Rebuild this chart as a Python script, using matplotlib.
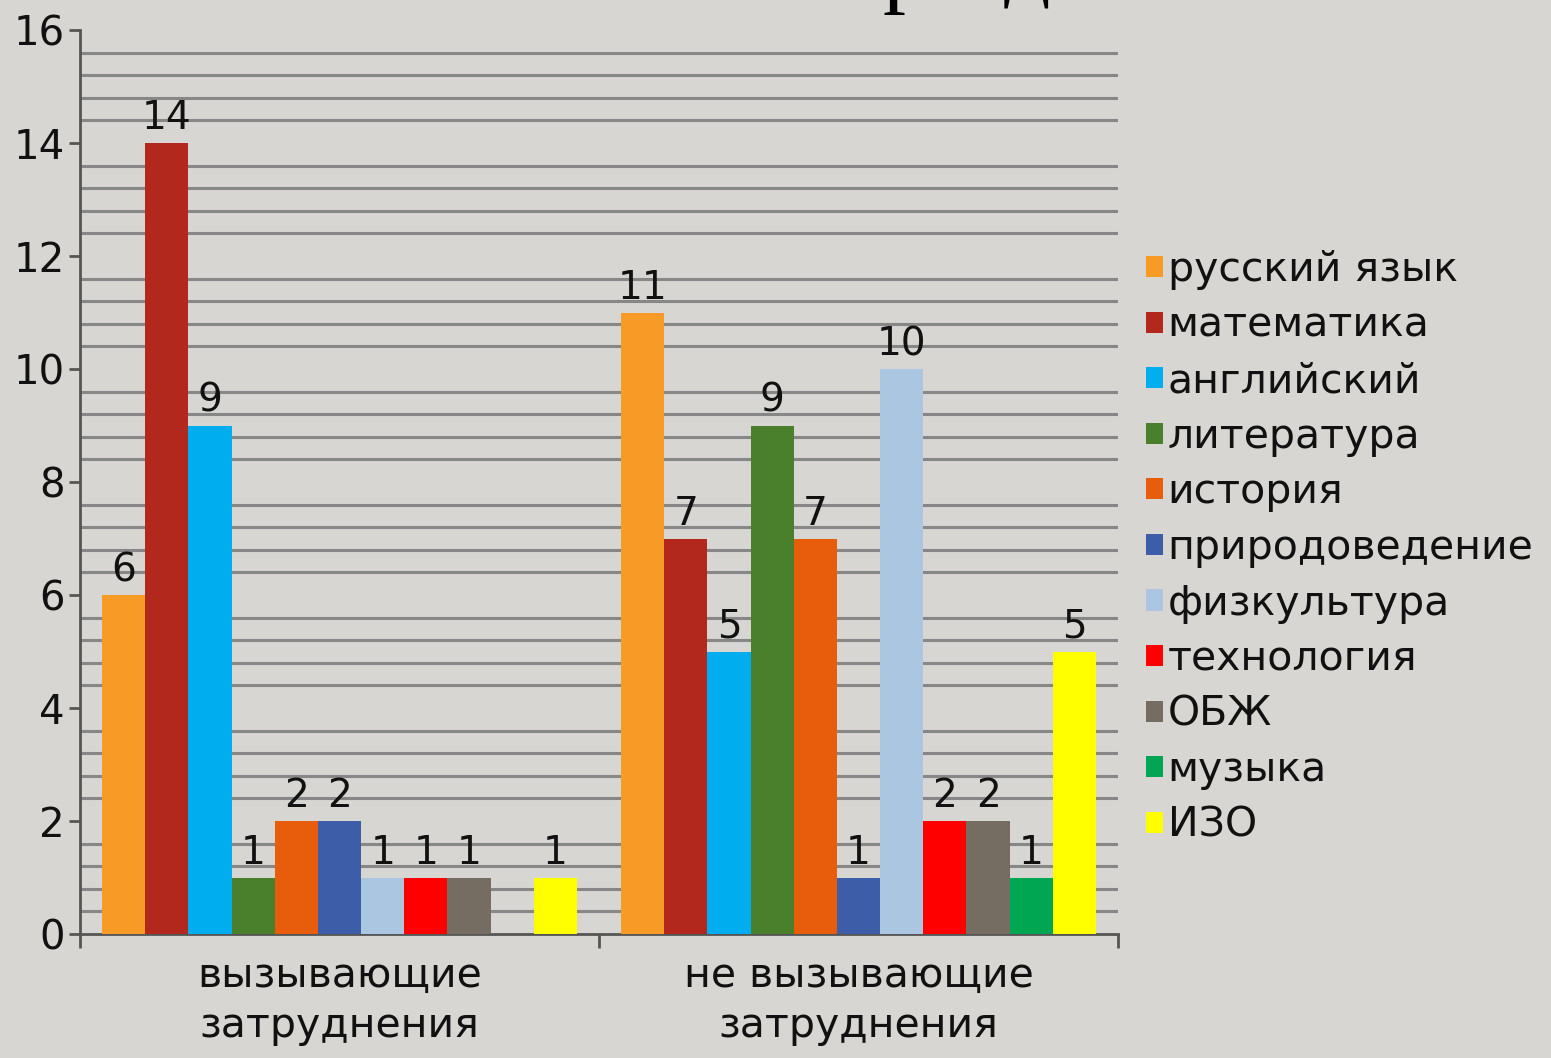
import numpy as np
import matplotlib
matplotlib.use('Agg')
from matplotlib import pyplot as plt

# данные
groups = ['вызывающие\nзатруднения', 'не вызывающие\nзатруднения']
subjects = ['русский язык', 'математика', 'английский', 'литература', 'история',
            'природоведение', 'физкультура', 'технология', 'ОБЖ', 'музыка', 'ИЗО']
hard = [6, 14, 9, 1, 2, 2, 1, 1, 1, 0, 1]
not_hard = [11, 7, 5, 9, 7, 1, 10, 2, 2, 1, 5]
colors = ['#f79a26', '#b3281d', '#00aeef', '#4a7f2c', '#e85d0c', '#3d5da8',
          '#abc6e0', '#ff0000', '#756d62', '#00a651', '#ffff00']
y_ticks = [0, 2, 4, 6, 8, 10, 12, 14, 16]

bg = '#d7d6d2'
plt.rcParams['font.family'] = ['DejaVu Sans']

fig = plt.figure(figsize=(15.51, 10.58), dpi=100, facecolor=bg)
ax = fig.add_axes([0.0516, 0.1172, 0.7208 - 0.0516, 0.9716 - 0.1172])
ax.set_facecolor(bg)

x = np.arange(len(groups))
w = 0.0832
for i, subj in enumerate(subjects):
    vals = [hard[i], not_hard[i]]
    pos = x + (i - 5) * w
    bars = ax.bar(pos, vals, width=w, color=colors[i], label=subj, zorder=3)
    for b, v in zip(bars, vals):
        if v > 0:
            ax.text(b.get_x() + b.get_width() / 2, v + 0.1, str(v),
                    ha='center', va='bottom', fontsize=28, color='#111111', zorder=4)

# мелкая сетка через 0.4, без линий на чётных значениях
grid_vals = [v for v in np.arange(0.4, 16, 0.4) if abs(v / 2 - round(v / 2)) > 0.01]
for g in grid_vals:
    ax.axhline(g, color='#878787', lw=2.2, zorder=1)

ax.set_xlim(-0.5, 1.5)
ax.set_ylim(0, 16)
ax.set_yticks(y_ticks)
ax.set_yticklabels([str(t) for t in y_ticks], fontsize=29, color='#111111')
ax.set_xticks([-0.5, 0.5, 1.5])
ax.set_xticklabels([])
ax.set_xticks(x, minor=True)
ax.set_xticklabels(groups, minor=True, fontsize=29.5, color='#111111', linespacing=1.3)
ax.tick_params(axis='x', which='minor', length=0, pad=16)
ax.tick_params(axis='x', which='major', length=10, width=2, color='#555555')
ax.tick_params(axis='y', length=8, width=2, color='#555555', pad=3)

for s in ['top', 'right']:
    ax.spines[s].set_visible(False)
for s in ['left', 'bottom']:
    ax.spines[s].set_color('#555555')
    ax.spines[s].set_linewidth(2)

leg = fig.legend(loc='upper left', bbox_to_anchor=(0.728, 0.779), frameon=False,
                 fontsize=29.5, handlelength=0.42, handleheight=0.42,
                 handletextpad=0.12, labelspacing=0.38, borderaxespad=0)
for t in leg.get_texts():
    t.set_color('#111111')

# обрезанный заголовок сверху
fig.text(905 / 1551, 1 + 4 / 1058, 'р', fontsize=66, family='Liberation Serif',
         ha='center', va='baseline')
fig.text(1027 / 1551, 1 + 10 / 1058, 'д', fontsize=66, family='Liberation Serif',
         ha='center', va='baseline')

fig.savefig('out.png', dpi=100, facecolor=bg)
